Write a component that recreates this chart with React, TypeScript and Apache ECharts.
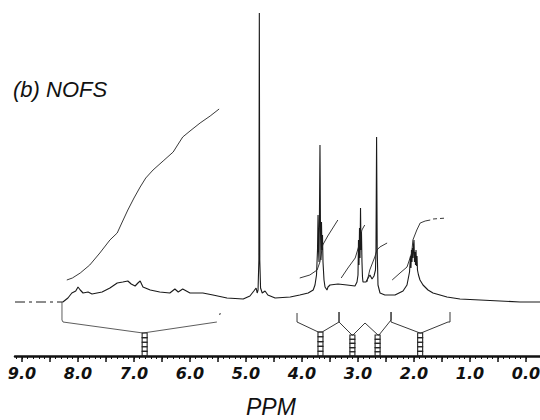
import React, { useEffect, useRef } from "react";
import * as echarts from "echarts";

// chemical shift (ppm) / relative intensity pairs
const spectrum: number[][] = [
  [8.27, -2], [8.18, 2], [8.11, 7], [8.04, 9], [8.0, 13], [7.96, 10], [7.91, 7], [7.82, 8],
  [7.75, 6], [7.66, 7], [7.57, 8], [7.43, 12], [7.3, 17], [7.2, 18], [7.11, 19], [7.05, 16],
  [6.98, 14], [6.93, 17], [6.89, 19], [6.84, 13], [6.71, 10], [6.54, 8], [6.36, 7], [6.27, 11],
  [6.21, 8], [6.13, 11], [6.0, 7], [5.77, 7], [5.59, 5], [5.34, 2], [5.05, 1], [4.93, 4],
  [4.86, 9], [4.82, 12], [4.8, 7], [4.785, 10], [4.77, 40], [4.762, 287], [4.754, 40],
  [4.74, 12], [4.71, 7], [4.66, 9], [4.61, 5], [4.48, 2], [4.21, 3], [4.04, 5], [3.89, 7],
  [3.8, 10], [3.768, 15], [3.741, 25], [3.723, 50], [3.714, 85], [3.705, 50], [3.696, 38],
  [3.688, 87], [3.679, 155], [3.67, 70], [3.661, 40], [3.652, 78], [3.643, 50], [3.634, 65],
  [3.625, 38], [3.607, 20], [3.589, 13], [3.554, 10], [3.536, 13], [3.5, 15], [3.357, 16],
  [3.196, 15], [3.054, 14], [3.018, 18], [3.0, 25], [2.991, 60], [2.982, 35], [2.973, 72],
  [2.964, 42], [2.955, 92], [2.946, 50], [2.938, 68], [2.929, 38], [2.92, 23], [2.911, 18],
  [2.857, 18], [2.821, 22], [2.786, 25], [2.75, 21], [2.714, 24], [2.688, 30], [2.679, 50],
  [2.668, 163], [2.657, 50], [2.643, 15], [2.607, 7], [2.52, 5], [2.339, 5], [2.196, 9],
  [2.125, 15], [2.08, 28], [2.063, 44], [2.054, 32], [2.045, 50], [2.036, 38], [2.027, 52],
  [2.018, 42], [2.009, 55], [2.0, 60], [1.991, 38], [1.982, 48], [1.973, 35], [1.964, 50],
  [1.955, 34], [1.946, 44], [1.938, 30], [1.92, 25], [1.893, 20], [1.839, 15], [1.75, 10],
  [1.661, 7], [1.536, 5], [1.411, 3], [1.179, 1], [0.821, 0], [0.464, -1], [0.107, -2],
  [-0.25, -2],
];

const leadIn: number[][] = [[9.125, -2], [8.27, -2]];

const integralAromatic: number[][] = [
  [8.2, 20], [8.1, 22], [7.96, 27], [7.79, 35], [7.61, 47], [7.43, 60], [7.3, 67], [7.21, 78],
  [7.11, 90], [7.0, 102], [6.89, 113], [6.79, 122], [6.66, 130], [6.48, 139], [6.3, 148],
  [6.21, 156], [6.13, 163], [6.0, 169], [5.82, 177], [5.64, 184], [5.48, 191],
];
const integral37: number[][] = [
  [4.04, 22], [3.86, 25], [3.73, 30], [3.68, 38], [3.63, 55], [3.54, 64], [3.45, 72], [3.36, 80],
];
const integral30: number[][] = [
  [3.3, 22], [3.18, 32], [3.05, 42], [2.98, 55], [2.93, 70], [2.88, 75],
];
const integral265: number[][] = [
  [2.84, 18], [2.79, 30], [2.7, 43], [2.66, 50], [2.61, 53], [2.48, 57],
];
const integral20: number[][] = [
  [2.39, 20], [2.25, 27], [2.125, 33], [2.04, 47], [2.02, 60], [1.95, 70], [1.89, 77],
  [1.8, 79], [1.71, 80],
];
const integral20Tail: number[][] = [[1.66, 81], [1.41, 82]];

const bracketLeft: number[][] = [
  [8.286, -2], [8.286, -20], [8.268, -22], [6.84, -33], [5.52, -22],
];
const bracketRight: number[][] = [
  [4.089, -13], [4.089, -22], [3.71, -32], [3.64, -32], [3.339, -22], [3.339, -12],
  [3.339, -22], [3.107, -35], [3.089, -35], [2.875, -23], [2.643, -35], [2.625, -35],
  [2.41, -20], [2.41, -12], [2.41, -22], [1.893, -33], [1.875, -33], [1.393, -22],
  [1.357, -22], [1.357, -12],
];
const bracketDot: number[][] = [[5.46, -13], [5.47, -15]];

// integration counters: [ppm, top, bottom, boxes]
const counters: number[][] = [
  [6.81, -33, -56, 5], [3.67, -32, -56, 5], [3.1, -35, -56, 5], [2.65, -35, -56, 5], [1.89, -33, -56, 5],
];

const labelValues = [0, 1, 2, 3, 4, 5, 6, 7, 8, 9];
const majorTicks = [0, 0.5, 1, 1.5, 2, 2.5, 3, 3.5, 4, 4.5, 5, 5.5, 6, 6.5, 7, 7.5, 8, 8.5, 9];
const minorTicks = Array.from({ length: 92 }, (_, i) => i / 10);

const INK = "#1a1a1a";

export default function App() {
  const ref = useRef<HTMLDivElement>(null);
  useEffect(() => {
    if (!ref.current) return;
    const chart = echarts.init(ref.current, undefined, { renderer: "svg" });
    const lineSeries = (data: number[][], width = 1, color = INK, type: any = "solid") => ({
      type: "line",
      data,
      showSymbol: false,
      silent: true,
      lineStyle: { color, width, type },
      z: 3,
    });
    chart.setOption({
      animation: false,
      backgroundColor: "#ffffff",
      grid: { left: 15, right: 0, top: 0, bottom: 64, containLabel: false, outerBoundsMode: "none" },
      xAxis: [
        {
          type: "value",
          min: -0.25,
          max: 9.125,
          inverse: true,
          position: "bottom",
          axisLine: { show: true, onZero: false, lineStyle: { color: "#111", width: 2.5 } },
          axisTick: { show: true, customValues: majorTicks, length: 6, lineStyle: { color: "#111", width: 1.5 } },
          axisLabel: {
            customValues: labelValues,
            formatter: (v: number) => v.toFixed(1),
            margin: 9,
            fontFamily: "DejaVu Sans",
            fontStyle: "italic",
            fontWeight: "bold",
            fontSize: 16,
            color: "#111",
          },
          splitLine: { show: false },
        },
        {
          type: "value",
          min: -0.25,
          max: 9.125,
          inverse: true,
          position: "bottom",
          axisLine: { show: false, onZero: false },
          axisTick: { show: true, customValues: minorTicks, length: 3, lineStyle: { color: "#111", width: 1 } },
          axisLabel: { show: false },
          splitLine: { show: false },
        },
      ],
      yAxis: { type: "value", min: -56, max: 300, show: false, splitLine: { show: false } },
      graphic: [
        { type: "text", left: 13, top: 78, style: { text: "(b) NOFS", fill: "#111", font: 'italic 22px "Liberation Sans"' } },
        { type: "text", left: 246, top: 395, style: { text: "PPM", fill: "#111", font: 'italic 23px "Liberation Sans"' } },
      ],
      series: [
        lineSeries(spectrum, 1.1),
        lineSeries(leadIn, 1, INK, [10, 4, 3, 4]),
        lineSeries(integralAromatic, 0.9, "#222"),
        lineSeries(integral37, 0.9, "#222"),
        lineSeries(integral30, 0.9, "#222"),
        lineSeries(integral265, 0.9, "#222"),
        lineSeries(integral20, 0.9, "#222"),
        lineSeries(integral20Tail, 0.9, "#222", [4, 3]),
        lineSeries(bracketLeft, 0.8, "#333"),
        lineSeries(bracketRight, 0.9, "#222"),
        lineSeries(bracketDot, 1, "#333"),
        {
          type: "custom",
          silent: true,
          data: counters,
          renderItem: (params: any, api: any) => {
            const x = api.value(0);
            const top = api.coord([x, api.value(1)]);
            const bot = api.coord([x, api.value(2)]);
            const n = api.value(3);
            const h = (bot[1] - top[1]) / n;
            const children = [];
            for (let i = 0; i < n; i++) {
              children.push({
                type: "rect",
                shape: { x: top[0] - 2.5, y: top[1] + i * h, width: 5, height: h },
                style: { fill: "none", stroke: "#222", lineWidth: 1.1 },
              });
            }
            return { type: "group", children };
          },
          z: 4,
        },
      ],
    });
    return () => chart.dispose();
  }, []);
  return <div ref={ref} style={{ position: "fixed", left: 0, top: 0, width: 540, height: 420 }} />;
}
